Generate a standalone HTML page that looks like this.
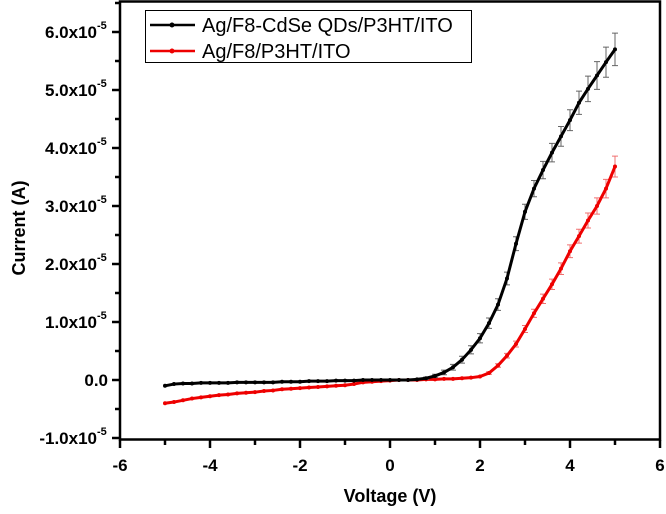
<!DOCTYPE html>
<html><head><meta charset="utf-8"><style>
body{margin:0;background:#fff;}
svg text{font-family:"Liberation Sans",Arial,sans-serif;}
</style></head><body>
<svg id="chart" width="666" height="509" viewBox="0 0 666 509" xmlns="http://www.w3.org/2000/svg">
<rect width="666" height="509" fill="#fff"/>
<g id="marks"></g>
<rect x="120" y="1.5" width="540" height="438" fill="none" stroke="#000" stroke-width="2.5"/>
<g id="axes"></g>
<text x="390" y="502" text-anchor="middle" font-weight="bold" font-size="18">Voltage (V)</text>
<text transform="translate(25,228) rotate(-90)" text-anchor="middle" font-weight="bold" font-size="18">Current (A)</text>
<g>
<rect x="145.5" y="10.5" width="326" height="52" fill="#fff" stroke="#000" stroke-width="1"/>
<g>
<line x1="150" y1="25" x2="195" y2="25" stroke="#000" stroke-width="2.5"/><circle cx="172" cy="25" r="2.5" fill="#000"/>
<text x="202" y="32" font-size="20">Ag/F8-CdSe QDs/P3HT/ITO</text></g>
<g>
<line x1="150" y1="51" x2="195" y2="51" stroke="#e00" stroke-width="2.5"/><circle cx="172" cy="51" r="2.5" fill="#e00"/>
<text x="202" y="58" font-size="20">Ag/F8/P3HT/ITO</text></g>
</g>
</svg>
<script>
const voltages=[-5,-4.8,-4.6,-4.4,-4.2,-4,-3.8,-3.6,-3.4,-3.2,-3,-2.8,-2.6,-2.4,-2.2,-2,-1.8,-1.6,-1.4,-1.2,-1,-0.8,-0.6,-0.4,-0.2,0,0.2,0.4,0.6,0.8,1,1.2,1.4,1.6,1.8,2,2.2,2.4,2.6,2.8,3,3.2,3.4,3.6,3.8,4,4.2,4.4,4.6,4.8,5];
const qdCurrent=[-0.10,-0.07,-0.06,-0.06,-0.05,-0.05,-0.05,-0.05,-0.04,-0.04,-0.04,-0.04,-0.04,-0.03,-0.03,-0.03,-0.02,-0.02,-0.02,-0.01,-0.01,-0.01,0,0,0,0,0,0,0.01,0.03,0.07,0.13,0.22,0.35,0.52,0.72,0.98,1.30,1.75,2.35,2.90,3.30,3.62,3.92,4.20,4.48,4.78,5.02,5.25,5.48,5.70];
const qdError=[0,0,0,0,0,0,0,0,0,0,0,0,0,0,0,0,0,0,0,0,0,0,0,0,0,0,0,0,0,0.02,0.03,0.04,0.05,0.06,0.07,0.08,0.09,0.10,0.11,0.12,0.13,0.14,0.15,0.16,0.17,0.18,0.20,0.22,0.24,0.26,0.28];
const refCurrent=[-0.40,-0.38,-0.35,-0.32,-0.30,-0.28,-0.26,-0.25,-0.23,-0.22,-0.21,-0.19,-0.18,-0.16,-0.15,-0.14,-0.13,-0.12,-0.11,-0.10,-0.09,-0.07,-0.04,-0.03,-0.02,-0.01,0,0,0,0.01,0.01,0.02,0.02,0.03,0.04,0.06,0.12,0.25,0.42,0.62,0.88,1.15,1.40,1.65,1.92,2.22,2.48,2.75,3.00,3.30,3.68];
const refError=[0,0,0,0,0,0,0,0,0,0,0,0,0,0,0,0,0,0,0,0,0,0,0,0,0,0,0,0,0,0,0,0,0,0,0,0,0.02,0.03,0.04,0.05,0.06,0.07,0.08,0.09,0.10,0.11,0.12,0.13,0.14,0.16,0.18];
const xTicks=[-6,-4,-2,0,2,4,6];
const yTicks=[-1,0,1,2,3,4,5,6];
const yTickLabels=["-1.0x10","0.0","1.0x10","2.0x10","3.0x10","4.0x10","5.0x10","6.0x10"];

const NS="http://www.w3.org/2000/svg";
function X(v){return 120+(v+6)*45;}
function Y(v){return 380-v*58;}
function mk(tag,attrs,parent){const e=document.createElementNS(NS,tag);for(const k in attrs)e.setAttribute(k,attrs[k]);parent.appendChild(e);return e;}
const axes=document.getElementById('axes');
const marks=document.getElementById('marks');
for(let v=-6;v<=6;v+=1){
  const major=v%2===0;
  const t=mk('line',{x1:X(v),x2:X(v),y1:440,y2:major?448:445,stroke:'#000','stroke-width':2.5},axes);
  
  
}
xTicks.forEach(v=>{
  const t=mk('text',{x:X(v),y:471,'text-anchor':'middle','font-weight':'bold','font-size':17},axes);
  t.textContent=String(v);
  
  
});
for(let v=-1;v<=6.5;v+=0.5){
  const major=Number.isInteger(v);
  const t=mk('line',{x1:major?112:115,x2:120,y1:Y(v),y2:Y(v),stroke:'#000','stroke-width':2.5},axes);
  
  
}
yTicks.forEach((v,i)=>{
  const lab=yTickLabels[i];
  const hasExp=lab.indexOf('x10')>=0;
  const t=mk('text',{x:hasExp?97:108,y:Y(v)+6,'text-anchor':'end','font-weight':'bold','font-size':17},axes);
  t.textContent=lab;
  
  
  if(hasExp){
    const s=mk('text',{x:97,y:Y(v)-3,'font-weight':'bold','font-size':11},axes);
    s.textContent='-5';
    
    
  }
});
function series(vals,errs,color,errColor,name){
  const g=mk('g',{},marks);
  
  
  vals.forEach((c,i)=>{
    if(errs[i]>0){
      const x=X(voltages[i]),y1=Y(c+errs[i]),y2=Y(c-errs[i]);
      const e=mk('path',{d:`M${x},${y1}V${y2}M${x-3},${y1}H${x+3}M${x-3},${y2}H${x+3}`,stroke:errColor,'stroke-width':1,fill:'none'},g);
      
      
    }
  });
  const d=vals.map((c,i)=>(i?'L':'M')+X(voltages[i])+','+Y(c)).join('');
  const p=mk('path',{d:d,stroke:color,'stroke-width':3,fill:'none'},g);
  
  
  vals.forEach((c,i)=>{
    const m=mk('circle',{cx:X(voltages[i]),cy:Y(c),r:2,fill:color},g);
    
    
  });
}
series(refCurrent,refError,'#ee0000','#f07070','series-ag-f8-p3ht-ito');
series(qdCurrent,qdError,'#000','#666','series-ag-f8-cdse-qds-p3ht-ito');
</script>
</body></html>
